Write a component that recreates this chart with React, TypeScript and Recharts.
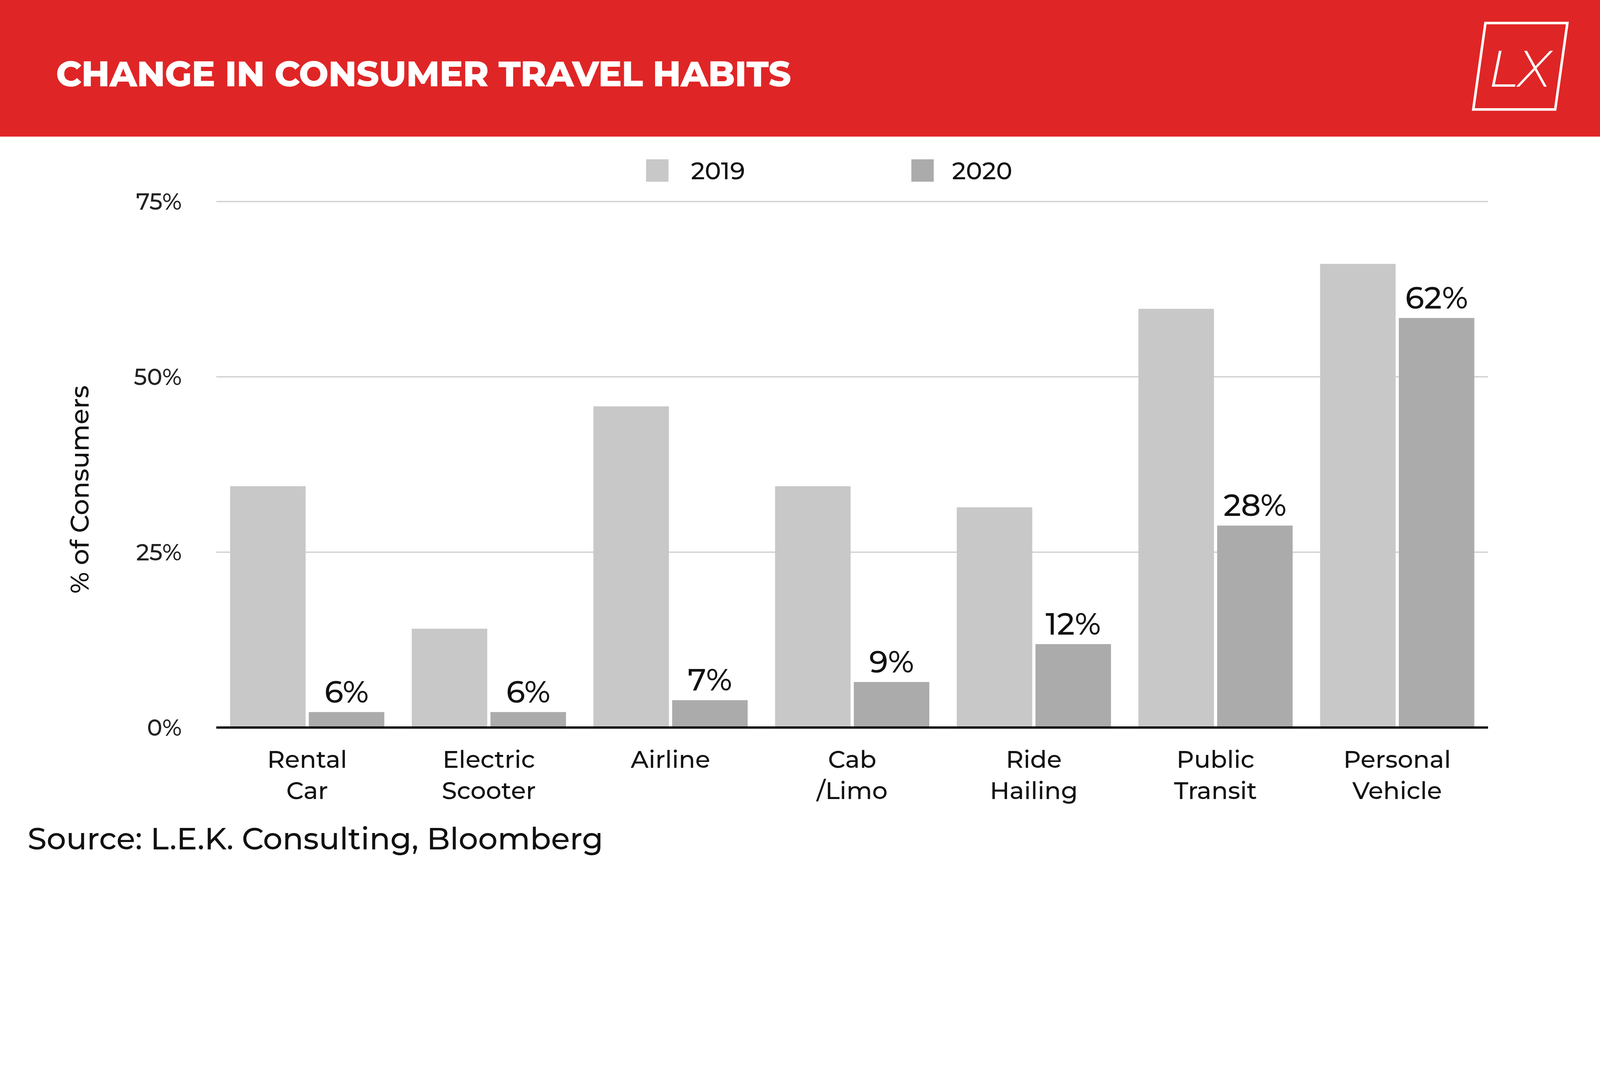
import { BarChart, Bar, XAxis, YAxis, CartesianGrid, LabelList, Legend } from 'recharts'

const categories = ['Rental\nCar', 'Electric\nScooter', 'Airline', 'Cab\n/Limo', 'Ride\nHailing', 'Public\nTransit', 'Personal\nVehicle']
const values2019 = [34.4, 14.1, 45.8, 34.4, 31.4, 59.7, 66.1]
const values2020 = [2.2, 2.2, 3.9, 6.5, 11.9, 28.8, 58.4]
const labels2020 = ['6%', '6%', '7%', '9%', '12%', '28%', '62%']
const yTicks = [0, 25, 50, 75]

const data = categories.map((c, i) => ({ name: c, y2019: values2019[i], y2020: values2020[i], label: labels2020[i] }))

const FONT = 'Montserrat, "Open Sans", Lato, sans-serif'

const XTick = (props: any) => {
  const { x, y, payload } = props
  const lines = String(payload.value).split('\n')
  return (
    <text x={x} y={y} textAnchor='middle' fontFamily={FONT} fontSize={76} fontWeight={500} fill='#111'>
      {lines.map((l, i) => (
        <tspan key={i} x={x} dy={i === 0 ? 118 : 98}>{l}</tspan>
      ))}
    </text>
  )
}

const LegendContent = () => (
  <div style={{ position: 'relative', height: 100, fontFamily: FONT, fontSize: 76, fontWeight: 500, color: '#111' }}>
    <div style={{ position: 'absolute', left: 2019, top: 0, width: 70, height: 70, background: '#c8c8c8' }} />
    <div style={{ position: 'absolute', left: 2159, top: -12, lineHeight: '94px' }}>2019</div>
    <div style={{ position: 'absolute', left: 2848, top: 0, width: 70, height: 70, background: '#ababab' }} />
    <div style={{ position: 'absolute', left: 2975, top: -12, lineHeight: '94px' }}>2020</div>
  </div>
)

const App = (): JSX.Element => {
  const s = Math.min(1, (typeof window !== 'undefined' ? window.innerWidth : 5000) / 5000)
  return (
    <div style={{ position: 'fixed', left: 0, top: 0, width: 5000 * s, height: 2727 * s, overflow: 'hidden', background: '#fff' }}>
      <div style={{ position: 'absolute', left: 0, top: 0, width: 5000, height: 2727, transform: `scale(${s})`, transformOrigin: '0 0', background: '#fff', overflow: 'hidden', fontFamily: FONT }}>
        <div style={{ position: 'absolute', left: 0, top: 0, width: 5000, height: 427, background: '#e02526' }} />
        <div style={{ position: 'absolute', left: 175, top: 161, fontSize: 110, fontWeight: 800, color: '#fff', lineHeight: '140px', letterSpacing: -1, whiteSpace: 'nowrap' }}>
          CHANGE IN CONSUMER TRAVEL HABITS
        </div>
        <svg style={{ position: 'absolute', left: 4598, top: 66 }} width={320} height={290}>
          <polygon points='44,6 300,6 262,276 6,276' fill='none' stroke='#fff' strokeWidth={8} />
          <text x={150} y={205} textAnchor='middle' fill='#fff' fontSize={160} fontFamily={FONT} fontStyle='italic' fontWeight={300}>LX</text>
        </svg>
        <div style={{ position: 'absolute', left: 249, top: 1530, transform: 'translate(-50%,-50%) rotate(-90deg)', fontSize: 80, fontWeight: 500, color: '#111', whiteSpace: 'nowrap' }}>
          % of Consumers
        </div>
        <div style={{ position: 'absolute', left: 86, top: 2562, fontSize: 96, fontWeight: 500, color: '#111', whiteSpace: 'nowrap' }}>
          Source: L.E.K. Consulting, Bloomberg
        </div>
        <div style={{ position: 'absolute', left: 0, top: 0 }}>
          <BarChart
            width={5000}
            height={2727}
            data={data}
            margin={{ top: 548, right: 350, left: 568, bottom: 0 }}
            barGap={10}
            barSize={236}
          >
            <Legend verticalAlign='top' content={LegendContent} wrapperStyle={{ left: 0, top: 498, width: 5000 }} />
            <CartesianGrid vertical={false} stroke='#cfcfcf' strokeWidth={4} />
            <XAxis dataKey='name' height={453} interval={0} tick={<XTick />} tickLine={false} axisLine={{ stroke: '#000', strokeWidth: 7 }} />
            <YAxis width={108} domain={[0, 75]} ticks={yTicks} tickFormatter={(v) => `${v}%`} axisLine={false} tickLine={false} tickSize={0} tickMargin={108} tick={{ fontSize: 72, fontWeight: 500, fill: '#222', fontFamily: FONT }} />
            <Bar dataKey='y2019' fill='#c8c8c8' isAnimationActive={false} />
            <Bar dataKey='y2020' fill='#ababab' isAnimationActive={false}>
              <LabelList dataKey='label' position='top' offset={30} style={{ fontSize: 96, fontWeight: 500, fill: '#111', fontFamily: FONT }} />
            </Bar>
          </BarChart>
        </div>
      </div>
    </div>
  )
}

export default App
